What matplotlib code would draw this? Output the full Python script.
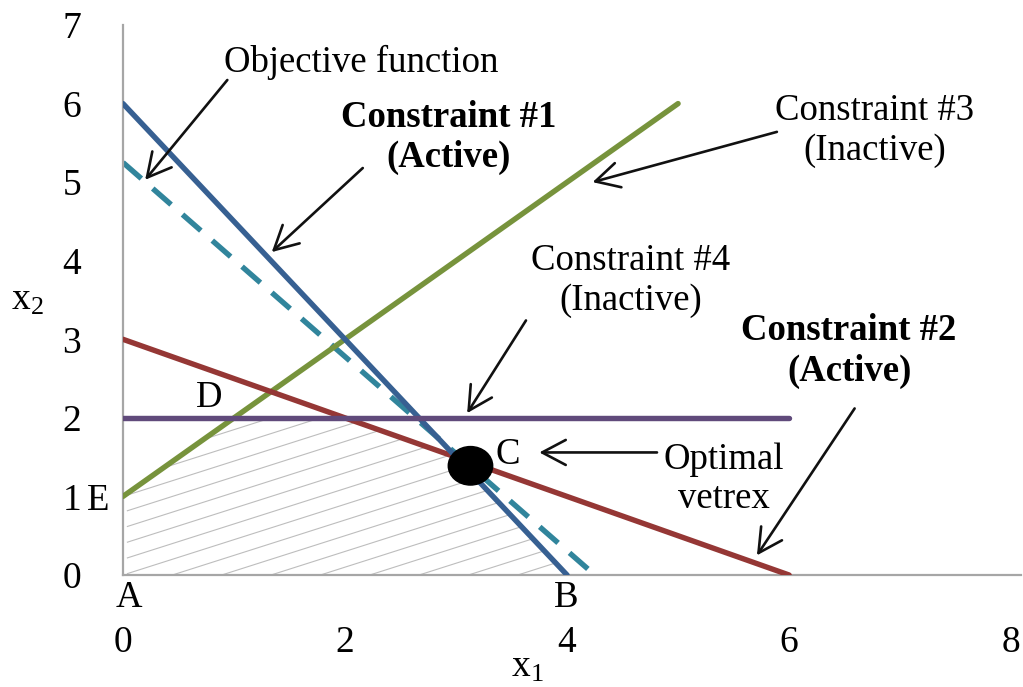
import numpy as np
import matplotlib
matplotlib.use("Agg")
import matplotlib.pyplot as plt
from matplotlib.patches import Polygon, Ellipse

plt.rcParams['font.family'] = ['Liberation Serif', 'DejaVu Serif']
plt.rcParams['mathtext.fontset'] = 'custom'
plt.rcParams['mathtext.rm'] = 'Liberation Serif'

# ---- data ----
c1_x = [0, 4];    c1_y = [6, 0]      # Constraint #1
c2_x = [0, 6];    c2_y = [3, 0]      # Constraint #2
c3_x = [0, 5];    c3_y = [1, 6]      # Constraint #3
c4_x = [0, 6];    c4_y = [2, 2]      # Constraint #4
obj_x = [0, 4.25]; obj_y = [5.25, 0]  # Objective function
feas_x = [0, 4, 3, 2, 1, 0]
feas_y = [0, 0, 1.5, 2, 2, 1]
opt_pt = (3.13, 1.39)
x_ticks = [0, 2, 4, 6, 8]
y_ticks = [0, 1, 2, 3, 4, 5, 6, 7]

C_BLUE = '#376092'
C_RED = '#953735'
C_GREEN = '#77933C'
C_PURPLE = '#604A7B'
C_TEAL = '#31859C'

fig = plt.figure(figsize=(10.23, 6.87), dpi=100)
ax = fig.add_axes([0.1202, 0.163, 0.878, 0.8006])
ax.set_xlim(0, 8.09)
ax.set_ylim(0, 7)

# hatched feasible region
poly = Polygon(np.column_stack([feas_x, feas_y]), closed=True,
               facecolor='none', edgecolor='none')
ax.add_patch(poly)
slope = 0.45
for c in np.arange(-2.0, 2.2, 0.2):
    xs = np.array([0.04, 4.2])
    hl, = ax.plot(xs, slope * xs + c, color='#BDBDBD', lw=0.8, zorder=1)
    hl.set_clip_path(poly)

lw = 3.9
ax.plot(obj_x, obj_y, color=C_TEAL, lw=lw, dashes=(4.5, 2.8), zorder=2)
ax.plot(c3_x, c3_y, color=C_GREEN, lw=lw, solid_capstyle='round', zorder=3)
ax.plot(c2_x, c2_y, color=C_RED, lw=lw, solid_capstyle='round', zorder=4)
ax.plot(c1_x, c1_y, color=C_BLUE, lw=lw, solid_capstyle='round', zorder=5)
ax.plot(c4_x, c4_y, color=C_PURPLE, lw=lw, solid_capstyle='round', zorder=6)

ax.add_patch(Ellipse(opt_pt, width=0.40, height=0.49, color='black', zorder=7))

# axes styling
for s in ['top', 'right']:
    ax.spines[s].set_visible(False)
for s in ['left', 'bottom']:
    ax.spines[s].set_color('#A6A6A6')
    ax.spines[s].set_linewidth(1.6)
ax.set_xticks(x_ticks)
ax.set_yticks(y_ticks)
ax.tick_params(axis='both', length=0, labelsize=27)
ax.tick_params(axis='x', pad=36)
ax.tick_params(axis='y', pad=30)

fs = 26.5
ax.text(3.64, -1.18, r'$\mathregular{x_1}$', fontsize=27, ha='center', va='center', clip_on=False)
ax.text(-0.86, 3.5, r'$\mathregular{x_2}$', fontsize=27, ha='center', va='center', clip_on=False)

# point labels
ax.text(0.055, -0.29, 'A', fontsize=fs, ha='center', va='center', clip_on=False)
ax.text(3.99, -0.29, 'B', fontsize=fs, ha='center', va='center', clip_on=False)
ax.text(3.47, 1.53, 'C', fontsize=fs, ha='center', va='center')
ax.text(0.78, 2.26, 'D', fontsize=fs, ha='center', va='center')
ax.text(-0.22, 0.95, 'E', fontsize=fs, ha='center', va='center', clip_on=False)

# annotation texts
ls = 1.2
ax.text(2.15, 6.53, 'Objective function', fontsize=fs, ha='center', va='center')
ax.text(2.93, 5.57, 'Constraint #1\n(Active)', fontsize=fs, fontweight='bold',
        ha='center', va='center', linespacing=ls)
ax.text(6.77, 5.66, 'Constraint #3\n(Inactive)', fontsize=fs,
        ha='center', va='center', linespacing=ls)
ax.text(4.57, 3.74, 'Constraint #4\n(Inactive)', fontsize=fs,
        ha='center', va='center', linespacing=ls)
ax.text(6.54, 2.85, 'Constraint #2\n(Active)', fontsize=fs, fontweight='bold',
        ha='center', va='center', linespacing=ls)
ax.text(5.41, 1.22, 'Optimal\nvetrex', fontsize=fs,
        ha='center', va='center', linespacing=ls)

arrows = [
    ((0.94, 6.30), (0.20, 5.03)),
    ((2.16, 5.18), (1.34, 4.11)),
    ((5.89, 5.64), (4.23, 5.00)),
    ((3.63, 3.24), (3.10, 2.06)),
    ((4.81, 1.56), (3.75, 1.56)),
    ((6.59, 2.12), (5.71, 0.25)),
]
for start, end in arrows:
    ax.annotate('', xy=end, xytext=start,
                arrowprops=dict(arrowstyle='->,head_length=0.85,head_width=0.45',
                                lw=1.9, color='#111111', shrinkA=0, shrinkB=0,
                                mutation_scale=20), zorder=8)

fig.savefig('out.png', dpi=100)
